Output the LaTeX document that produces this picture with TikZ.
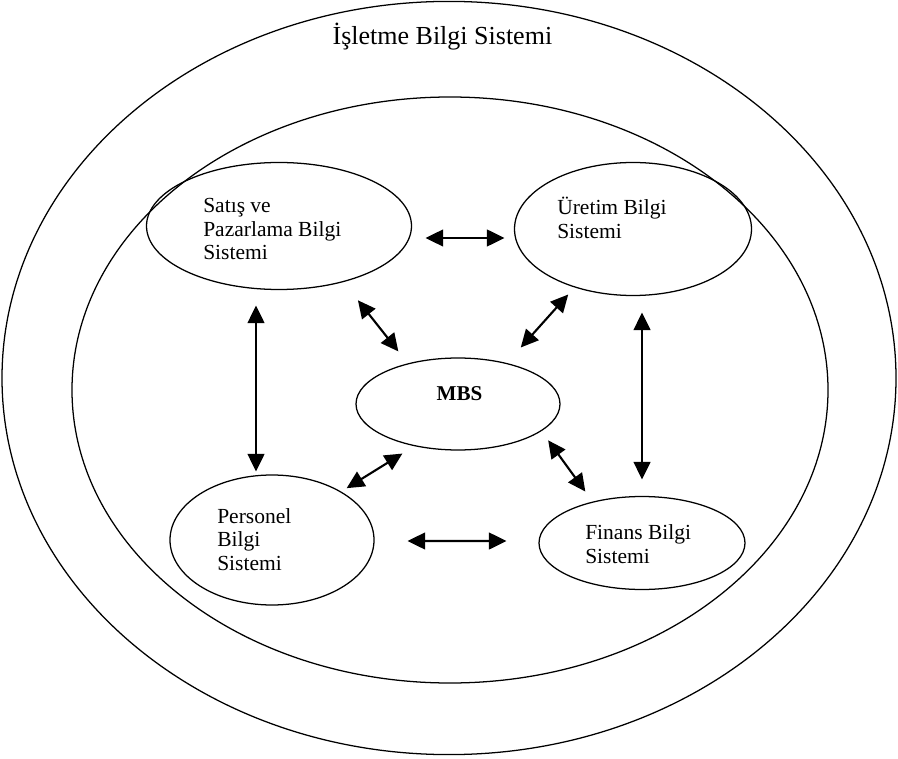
\documentclass[tikz,border=0pt]{standalone}
\usepackage{fontspec}
\setmainfont{Liberation Serif}
\usetikzlibrary{shapes.geometric,arrows.meta,positioning}
\tikzset{
      sysbox/.style   = {draw, ellipse, line width=0.9pt, inner sep=0pt},
      systext/.style  = {align=left, anchor=west, inner sep=0pt, font=\fontsize{15.3}{17}\selectfont},
      link/.style     = {black, line width=1.5pt, <->, >={Triangle[length=12.5pt,width=12pt]}},
    }

\begin{document}
\begin{tikzpicture}
    \useasboundingbox (0,0) rectangle (22.45,18.95);
    % outer systems
    \node[sysbox, minimum width=22.35cm, minimum height=18.83cm] (isletme) at (11.225,9.5) {};
    \node[anchor=base, inner sep=0pt, font=\fontsize{18.5}{20}\selectfont] (title) at (11.06,17.825) {İşletme Bilgi Sistemi};
    \node[sysbox, minimum width=18.9cm, minimum height=14.65cm] (icsistem) at (11.25,9.2) {};

    % subsystems
    \node[sysbox, minimum width=6.625cm, minimum height=3.175cm] (sat) at (6.975,13.3) {};
    \node[sysbox, minimum width=5.925cm, minimum height=3.325cm] (ure) at (15.825,13.225) {};
    \node[sysbox, minimum width=5.1cm, minimum height=2.3cm] (mbs) at (11.45,8.85) {};
    \node[sysbox, minimum width=5.1cm, minimum height=3.25cm] (per) at (6.8,5.45) {};
    \node[sysbox, minimum width=5.15cm, minimum height=2.325cm] (fin) at (16.05,5.375) {};

    \node[systext] (sattxt) at (5.075,13.225) {Satış ve\\Pazarlama Bilgi\\Sistemi};
    \node[systext] (uretxt) at (13.925,13.5) {Üretim Bilgi\\Sistemi};
    \node[inner sep=0pt, font=\fontsize{15}{17}\selectfont\bfseries] (mbstxt) at (11.4875,9.1) {MBS};
    \node[systext] (pertxt) at (5.425,5.46) {Personel\\Bilgi\\Sistemi};
    \node[systext] (fintxt) at (14.625,5.35) {Finans Bilgi\\Sistemi};

    % links
    \path ([yshift=-0.3cm]sat.east) edge[link, shorten <=0.3375cm, shorten >=0.2375cm] ([yshift=-0.225cm]ure.west);
    \path ([yshift=-0.025cm]per.east) edge[link, shorten <=0.825cm, shorten >=0.8cm] ([yshift=0.05cm]fin.west);
    \path ([xshift=-0.4cm]per.north) edge[link, shorten <=0.075cm, shorten >=0.3875cm] ([xshift=-0.575cm]sat.south);
    \path (fin.north) edge[link, shorten <=0.4125cm, shorten >=0.4125cm] ([xshift=0.225cm]ure.south);
    \path (sat.-41.9) edge[link, shorten <=0.58cm, shorten >=0.38cm] (mbs.141.5);
    \path (ure.225.2) edge[link, shorten <=0.235cm, shorten >=0.52cm] (mbs.40.2);
    \path (per.35.8) edge[link, shorten <=0.16cm, shorten >=0.35cm] (mbs.224.2);
    \path (fin.140) edge[link, shorten <=0.31cm, shorten >=0.285cm] (mbs.-18);
\end{tikzpicture}
\end{document}
